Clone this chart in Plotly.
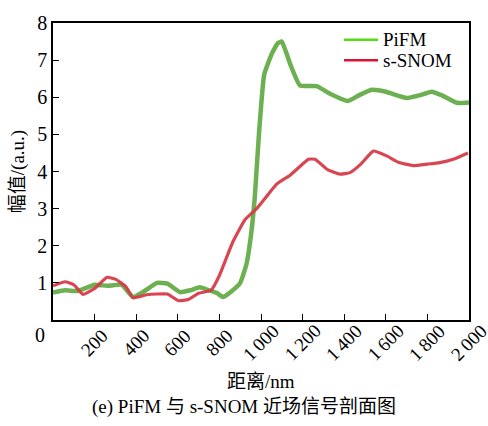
import plotly.graph_objects as go

# PiFM profile
pifm_x = [0, 60, 120, 200, 260, 330, 385, 440, 500, 550, 610, 660, 706, 750, 790, 818, 860, 900, 930, 950, 970, 990, 1015, 1050, 1080, 1100, 1140, 1187, 1268, 1330, 1418, 1470, 1532, 1600, 1700, 1760, 1821, 1870, 1941, 2000]
pifm_y = [0.74, 0.8, 0.78, 0.95, 0.92, 0.95, 0.62, 0.78, 1.0, 0.98, 0.75, 0.8, 0.88, 0.8, 0.72, 0.62, 0.78, 1.0, 1.5, 2.2, 3.3, 5.0, 6.6, 7.15, 7.45, 7.5, 6.9, 6.32, 6.3, 6.1, 5.9, 6.05, 6.2, 6.15, 5.98, 6.05, 6.15, 6.05, 5.85, 5.86]

# s-SNOM profile
snom_x = [0, 58, 100, 144, 200, 260, 300, 350, 385, 450, 500, 550, 603, 650, 700, 760, 800, 866, 923, 979, 1030, 1075, 1140, 1190, 1228, 1260, 1320, 1380, 1428, 1480, 1540, 1604, 1660, 1731, 1800, 1860, 1924, 1995]
snom_y = [0.92, 1.03, 0.95, 0.69, 0.85, 1.15, 1.1, 0.9, 0.6, 0.68, 0.7, 0.7, 0.52, 0.55, 0.72, 0.8, 1.2, 2.12, 2.7, 3.0, 3.35, 3.66, 3.9, 4.15, 4.33, 4.33, 4.05, 3.93, 3.97, 4.2, 4.55, 4.42, 4.25, 4.16, 4.2, 4.24, 4.33, 4.5]

series_names = ["PiFM", "s-SNOM"]
legend_colors = ["#55dd11", "#dd1133"]

x_ticks = [200, 400, 600, 800, 1000, 1200, 1400, 1600, 1800, 2000]
x_tick_labels = ["200", "400", "600", "800", "1\u2009000", "1\u2009200", "1\u2009400", "1\u2009600", "1\u2009800", "2\u2009000"]
y_ticks = [1, 2, 3, 4, 5, 6, 7, 8]

serif = "Liberation Serif"
cjk = "Liberation Serif, Noto Sans CJK SC"

fig = go.Figure()
fig.add_trace(go.Scatter(x=pifm_x, y=pifm_y, mode="lines", showlegend=False, name=series_names[0],
                         line=dict(color="rgba(100,172,72,0.95)", width=4.5, shape="spline", smoothing=0.4)))
fig.add_trace(go.Scatter(x=snom_x, y=snom_y, mode="lines", showlegend=False, name=series_names[1],
                         line=dict(color="rgba(214,60,72,0.95)", width=3.2, shape="spline", smoothing=0.4)))

pw, ph = 488 - 53 - 19, 426 - 18 - 106
def px(x):
    return (x - 53) / pw
def py(y):
    return (320 - y) / ph

shapes = []
annotations = []
for i, (nm, col) in enumerate(zip(series_names, legend_colors)):
    yy = 35 + 21 * i
    shapes.append(dict(type="line", xref="paper", yref="paper", x0=px(344), x1=px(378),
                       y0=py(yy), y1=py(yy), line=dict(color=col, width=2.5)))
    annotations.append(dict(text=nm, x=px(381), y=py(yy), xref="paper", yref="paper",
                            xanchor="left", yanchor="middle", showarrow=False,
                            font=dict(size=19, family=serif)))

# rotated x tick labels centred under each tick
for v, lab in zip(x_ticks, x_tick_labels):
    annotations.append(dict(text=lab, x=v, xref="x", y=py(343), yref="paper",
                            xanchor="center", yanchor="middle", textangle=-45,
                            showarrow=False, font=dict(size=19, family=serif)))

annotations.append(dict(text="0", x=px(40), y=py(335), xref="paper", yref="paper",
                        showarrow=False, font=dict(size=20, family=serif), xanchor="center", yanchor="middle"))
annotations.append(dict(text="距离/nm", x=px(261), y=py(383), xref="paper", yref="paper",
                        showarrow=False, font=dict(size=19, family=cjk), xanchor="center", yanchor="middle"))
annotations.append(dict(text="(e) PiFM 与 s-SNOM 近场信号剖面图", x=px(244), y=py(408), xref="paper", yref="paper",
                        showarrow=False, font=dict(size=19, family=cjk), xanchor="center", yanchor="middle"))

fig.update_layout(
    width=488, height=426,
    margin=dict(l=53, r=19, t=18, b=106),
    paper_bgcolor="white", plot_bgcolor="white",
    font=dict(family=serif, size=20, color="black"),
    showlegend=False,
    xaxis=dict(range=[0, 2000], tickvals=x_ticks, showticklabels=False,
               ticks="inside", ticklen=6, tickcolor="black",
               showline=True, linecolor="black", linewidth=1.5, mirror=True,
               showgrid=False, zeroline=False),
    yaxis=dict(range=[0, 8], tickvals=y_ticks, ticks="inside", ticklen=6, tickcolor="black",
               showline=True, linecolor="black", linewidth=1.5, mirror=True,
               showgrid=False, zeroline=False, tickfont=dict(size=20, family=serif),
               title=dict(text="幅值/(a.u.)", font=dict(family=cjk, size=19), standoff=8)),
    shapes=shapes,
    annotations=annotations,
)

fig.write_html("out.html")
